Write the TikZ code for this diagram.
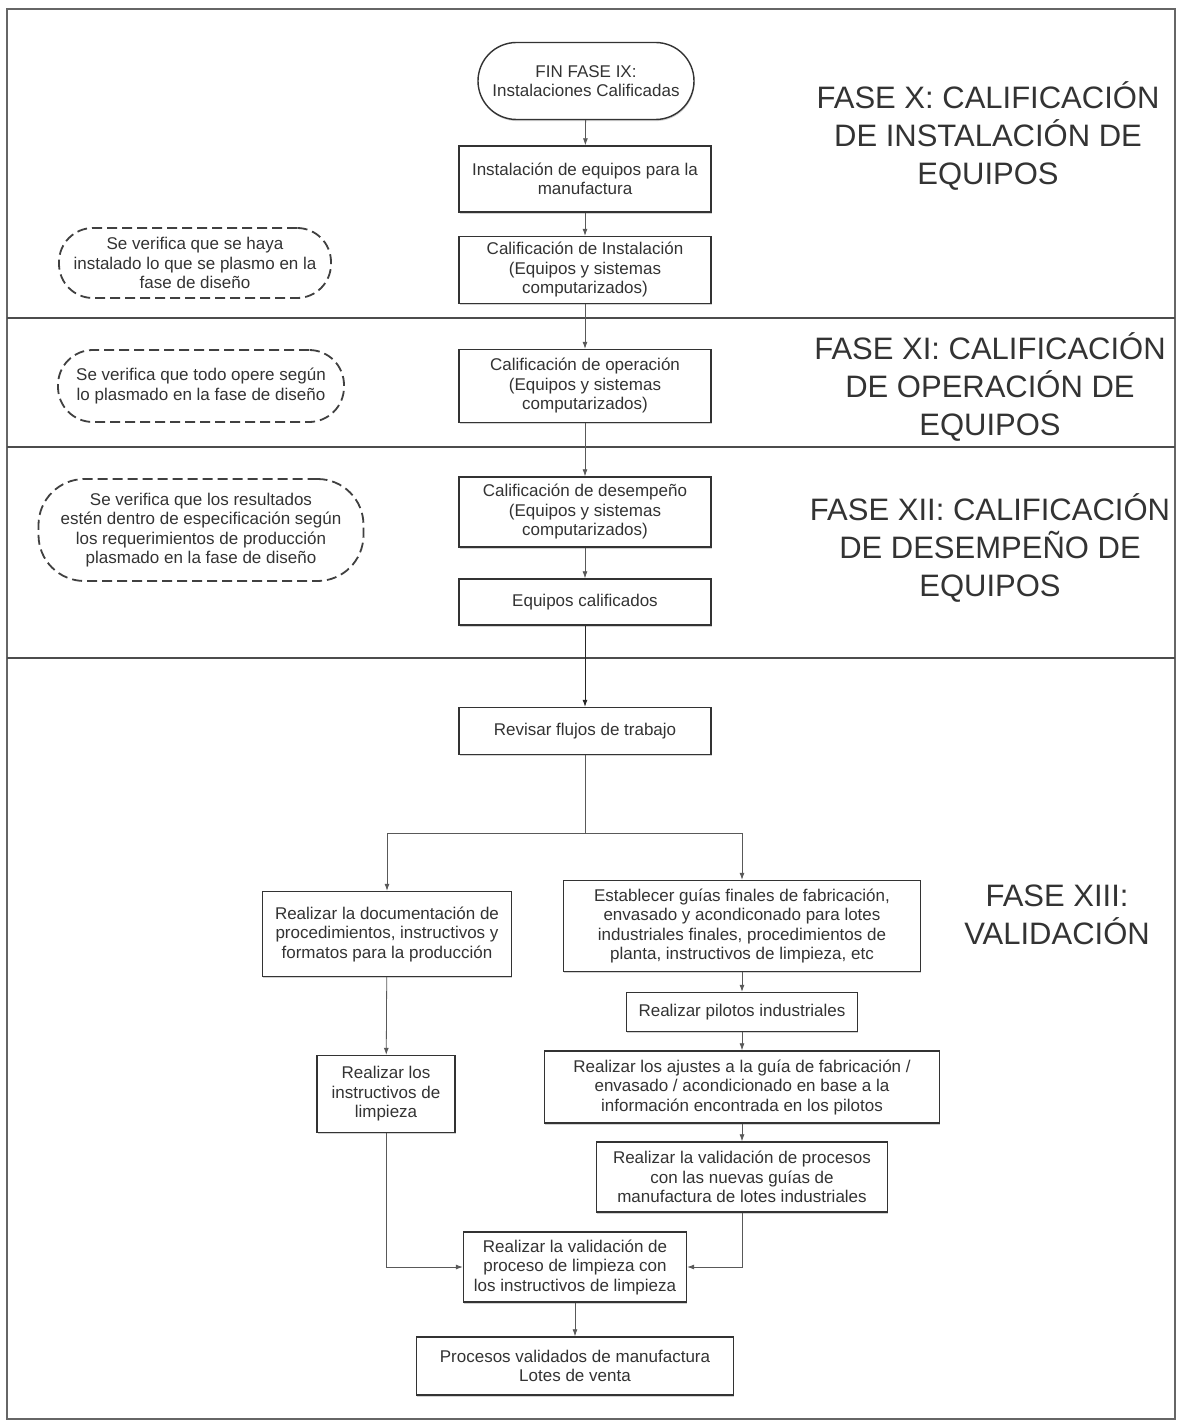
\documentclass[tikz,border=0pt]{standalone}
\usepackage{fontspec}
\setmainfont{Liberation Sans}
\usetikzlibrary{arrows.meta,shapes.misc,shadows}
\definecolor{ink}{HTML}{333333}
\newcommand\boxfont{\fontsize{17}{19.5}\selectfont}
\newcommand\phasefont{\fontsize{31}{38}\selectfont}
\begin{document}
\begin{tikzpicture}[x=1pt,y=-1pt,
  proc/.style={draw=black!80, line width=1.4pt, fill=white, align=center,
    font=\boxfont, text=ink, inner sep=0pt,
    drop shadow={shadow xshift=0.6pt, shadow yshift=-1.6pt, opacity=0.35}},
  terminal/.style={proc, rounded rectangle},
  note/.style={rectangle, draw=black!75, dashed, dash pattern=on 10pt off 5pt,
    line width=1.8pt, align=center, font=\boxfont, text=ink, inner sep=0pt},
  phase/.style={align=center, font=\phasefont, text=ink},
  flow/.style={draw=black!65, line width=0.8pt, -{Latex[length=7pt,width=5pt]}},
  sep/.style={draw=black!70, line width=1.6pt}]

% page and outer frame
\useasboundingbox (0,0) rectangle (1179,1423);
\fill[white] (0,0) rectangle (1179,1423);
\draw[black!60, line width=1.2pt] (7,9) rectangle (1175,1419);

% phase separators
\draw[sep] (7,318) -- (1175,318);
\draw[sep] (7,447) -- (1175,447);
\draw[sep] (7,658) -- (1175,658);

% phase titles
\node[phase] (tX)    at (988,136) {FASE X: CALIFICACIÓN\\DE INSTALACIÓN DE\\EQUIPOS};
\node[phase] (tXI)   at (990,387) {FASE XI: CALIFICACIÓN\\DE OPERACIÓN DE\\EQUIPOS};
\node[phase] (tXII)  at (990,548) {FASE XII: CALIFICACIÓN\\DE DESEMPEÑO DE\\EQUIPOS};
\node[phase] (tXIII) at (1057,915) {FASE XIII:\\VALIDACIÓN};

% notes (dashed, strongly rounded outlines)
\node[note, rounded corners=34pt, minimum width=272pt, minimum height=70pt] (n1) at (195,263)
  {Se verifica que se haya\\instalado lo que se plasmo en la\\fase de diseño};
\node[note, rounded corners=35pt, minimum width=286pt, minimum height=72pt] (n2) at (201,386)
  {Se verifica que todo opere según\\lo plasmado en la fase de diseño};
\node[note, rounded corners=46pt, minimum width=325pt, minimum height=102pt] (n3) at (201,530)
  {Se verifica que los resultados\\estén dentro de especificación según\\los requerimientos de producción\\plasmado en la fase de diseño};

% main column
\node[terminal, minimum width=216pt, minimum height=77pt] (fin) at (586,81)
  {FIN FASE IX:\\Instalaciones Calificadas};
\node[proc, minimum width=252pt, minimum height=66pt] (inst) at (585,179)
  {Instalación de equipos para la\\manufactura};
\node[proc, minimum width=252pt, minimum height=67pt] (ci) at (585,270)
  {Calificación de Instalación\\(Equipos y sistemas\\computarizados)};
\node[proc, minimum width=252pt, minimum height=73pt] (co) at (585,386)
  {Calificación de operación\\(Equipos y sistemas\\computarizados)};
\node[proc, minimum width=252pt, minimum height=70pt] (cd) at (585,512)
  {Calificación de desempeño\\(Equipos y sistemas\\computarizados)};
\node[proc, minimum width=252pt, minimum height=46pt] (eq) at (585,602)
  {Equipos calificados};
\node[proc, minimum width=252pt, minimum height=47pt] (rev) at (585,731)
  {Revisar flujos de trabajo};

% left branch
\node[proc, minimum width=249pt, minimum height=85pt] (doc) at (387,934)
  {Realizar la documentación de\\procedimientos, instructivos y\\formatos para la producción};
\node[proc, minimum width=138pt, minimum height=77pt] (lim) at (386,1094)
  {Realizar los\\instructivos de\\limpieza};

% right branch
\node[proc, minimum width=357pt, minimum height=91pt] (est) at (742,926)
  {Establecer guías finales de fabricación,\\envasado y acondiconado para lotes\\industriales finales, procedimientos de\\planta, instructivos de limpieza, etc};
\node[proc, minimum width=231pt, minimum height=39pt] (pil) at (742,1012)
  {Realizar pilotos industriales};
\node[proc, minimum width=395pt, minimum height=72pt] (aju) at (742,1087)
  {Realizar los ajustes a la guía de fabricación /\\envasado / acondicionado en base a la\\información encontrada en los pilotos};
\node[proc, minimum width=291pt, minimum height=70pt] (vp) at (742,1177)
  {Realizar la validación de procesos\\con las nuevas guías de\\manufactura de lotes industriales};

% closing steps
\node[proc, minimum width=223pt, minimum height=70pt] (vl) at (575,1267)
  {Realizar la validación de\\proceso de limpieza con\\los instructivos de limpieza};
\node[proc, minimum width=317pt, minimum height=58pt] (fin2) at (575,1366)
  {Procesos validados de manufactura\\Lotes de venta};

% connectors
\draw[flow] (fin) -- (inst);
\draw[flow] (inst) -- (ci);
\draw[flow] (ci) -- (co);
\draw[flow] (co) -- (cd);
\draw[flow] (cd) -- (eq);
\draw[flow, draw=black!85] (eq) -- (rev);
\coordinate (split) at (585,833);
\draw[flow] (rev.south) -- (split) -| (doc.north);
\draw[flow] (split) -| (est.north);
\draw[flow] (est) -- (pil);
\draw[flow] (pil) -- (aju);
\draw[flow] (aju) -- (vp);
\draw[flow] (doc) -- (lim);
\draw[flow] (lim.south) |- (vl.west);
\draw[flow] (vp.south) |- (vl.east);
\draw[flow] (vl) -- (fin2);
\end{tikzpicture}
\end{document}
